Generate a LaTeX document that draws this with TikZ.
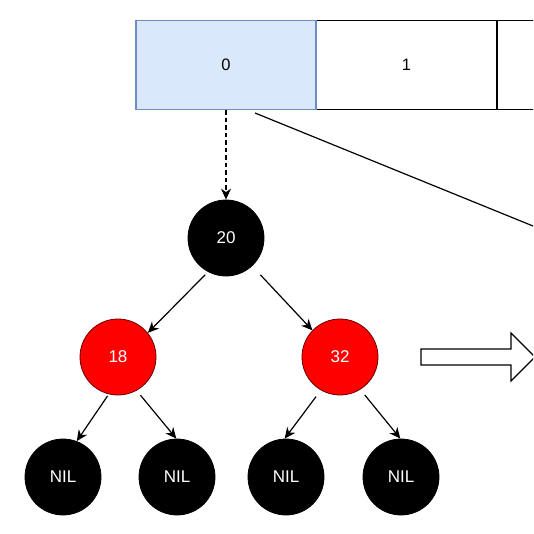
\documentclass[tikz,border=0pt]{standalone}
\usepackage{fontspec}
\setmainfont{Liberation Sans}
\usetikzlibrary{arrows.meta,calc}
\definecolor{boxblue}{HTML}{DAE8FC}
\definecolor{boxedge}{HTML}{6C8EBF}
\definecolor{rbred}{HTML}{FF0000}
\definecolor{rbedge}{HTML}{6A0000}
\begin{document}
\begin{tikzpicture}[x=1pt,y=-1pt,
  cell/.style={draw, line width=1.3pt, minimum width=180pt, minimum height=89pt, inner sep=0pt, font=\fontsize{16.5}{19}\selectfont},
  rbnode/.style={circle, minimum size=76pt, inner sep=0pt, line width=0.8pt, text=white, font=\fontsize{17}{20}\selectfont},
  blacknode/.style={rbnode, fill=black, draw=black},
  rednode/.style={rbnode, fill=rbred, draw=rbedge},
  edge/.style={-{Stealth[length=11pt,width=10pt,inset=3.5pt]}, line width=1.2pt}]
\useasboundingbox (0,0) rectangle (533,534);
\clip (0,0) rectangle (533,534);
% array cells
\node[cell, fill=white, draw=black] (b1) at (406.5,65) {1};
\node[cell, fill=white, draw=black] (b2) at (587.5,65) {};
\node[cell, fill=boxblue, draw=boxedge] (b0) at (226,65) {0};
% tree nodes
\node[blacknode] (n20) at (226,238) {20};
\node[rednode] (n18) at (118,357) {18};
\node[rednode] (n32) at (340,357) {32};
\node[blacknode] (nil1) at (63,477) {NIL};
\node[blacknode] (nil2) at (177,477) {NIL};
\node[blacknode] (nil3) at (286,477) {NIL};
\node[blacknode] (nil4) at (401,477) {NIL};
% connectors
\draw[edge, dash pattern=on 4.5pt off 3pt] (b0) -- (n20);
\coordinate (ls) at (255,113);
\coordinate (le) at (640,269.5);
\draw[line width=1.2pt] (ls) -- (le);
\draw[edge, shorten <=4pt] (n20.242) -- (n18.39);
\draw[edge, shorten <=12pt] (n20.313) -- (n32.136);
\draw[edge, shorten <=2pt] (n18.256) -- (nil1.69);
\draw[edge, shorten <=6pt] (n18.299) -- (nil2.91);
\draw[edge, shorten <=8pt] (n32.240) -- (nil3.92);
\draw[edge, shorten <=7pt] (n32.302) -- (nil4.91);
% block arrow
\draw[line width=1.2pt, fill=white] (421,349) -- (511,349) -- (511,333) -- (535,357) -- (511,381) -- (511,365) -- (421,365) -- cycle;
\end{tikzpicture}
\end{document}
